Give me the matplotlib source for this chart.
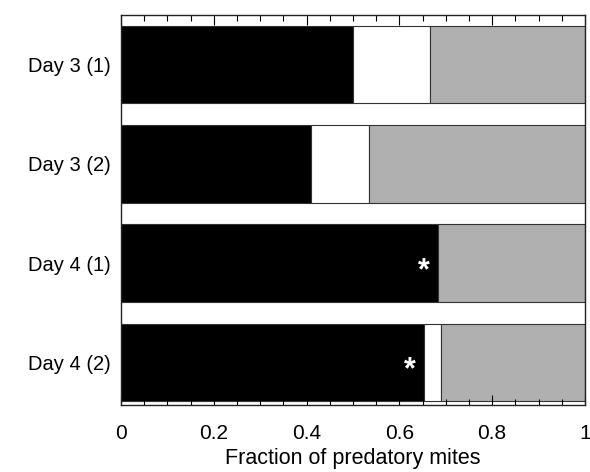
import matplotlib
matplotlib.use("Agg")
import matplotlib.pyplot as plt
from matplotlib.ticker import MultipleLocator

plt.rcParams['font.family'] = ['Liberation Sans', 'DejaVu Sans']

categories = ["Day 3 (1)", "Day 3 (2)", "Day 4 (1)", "Day 4 (2)"]
black_vals = [0.50, 0.41, 0.683, 0.653]
white_vals = [0.167, 0.125, 0.0, 0.037]
gray_vals = [0.333, 0.465, 0.317, 0.31]
star_cats = ["Day 4 (1)", "Day 4 (2)"]
xticks = [0, 0.2, 0.4, 0.6, 0.8, 1]
xtick_labels = ["0", "0.2", "0.4", "0.6", "0.8", "1"]

fig = plt.figure(figsize=(5.9, 4.72), dpi=100)
ax = fig.add_axes([0.205, 0.142, 0.7865, 0.826])

y = list(range(len(categories)))
h = 0.78
ec = "#333333"
ax.barh(y, black_vals, height=h, color="black", edgecolor=ec, linewidth=0.8)
left2 = black_vals
ax.barh(y, white_vals, left=left2, height=h, color="white", edgecolor=ec, linewidth=0.8)
left3 = [b + w for b, w in zip(black_vals, white_vals)]
ax.barh(y, gray_vals, left=left3, height=h, color="#b0b0b0", edgecolor=ec, linewidth=0.8)

for c in star_cats:
    i = categories.index(c)
    ax.text(black_vals[i] - 0.03, i + 0.08, "*", color="white", fontsize=22,
            ha="center", va="center", fontweight="bold")

ax.set_xlim(0, 1)
ax.set_ylim(3.43, -0.5)
ax.set_yticks(y)
ax.set_yticklabels(categories, fontsize=14.5)
ax.set_xticks(xticks)
ax.set_xticklabels(xtick_labels, fontsize=15)
ax.xaxis.set_minor_locator(MultipleLocator(0.05))
ax.tick_params(axis='x', which='both', direction='in', top=True, bottom=True)
ax.tick_params(axis='x', which='major', length=7, width=0.8, pad=14)
ax.tick_params(axis='x', which='minor', length=4, width=0.8)
ax.tick_params(axis='y', length=0, pad=7)
ax.set_xlabel("Fraction of predatory mites", fontsize=15.5, labelpad=3)
for s in ax.spines.values():
    s.set_linewidth(1.0)
    s.set_color("#222222")

fig.savefig("out.png", dpi=100)
